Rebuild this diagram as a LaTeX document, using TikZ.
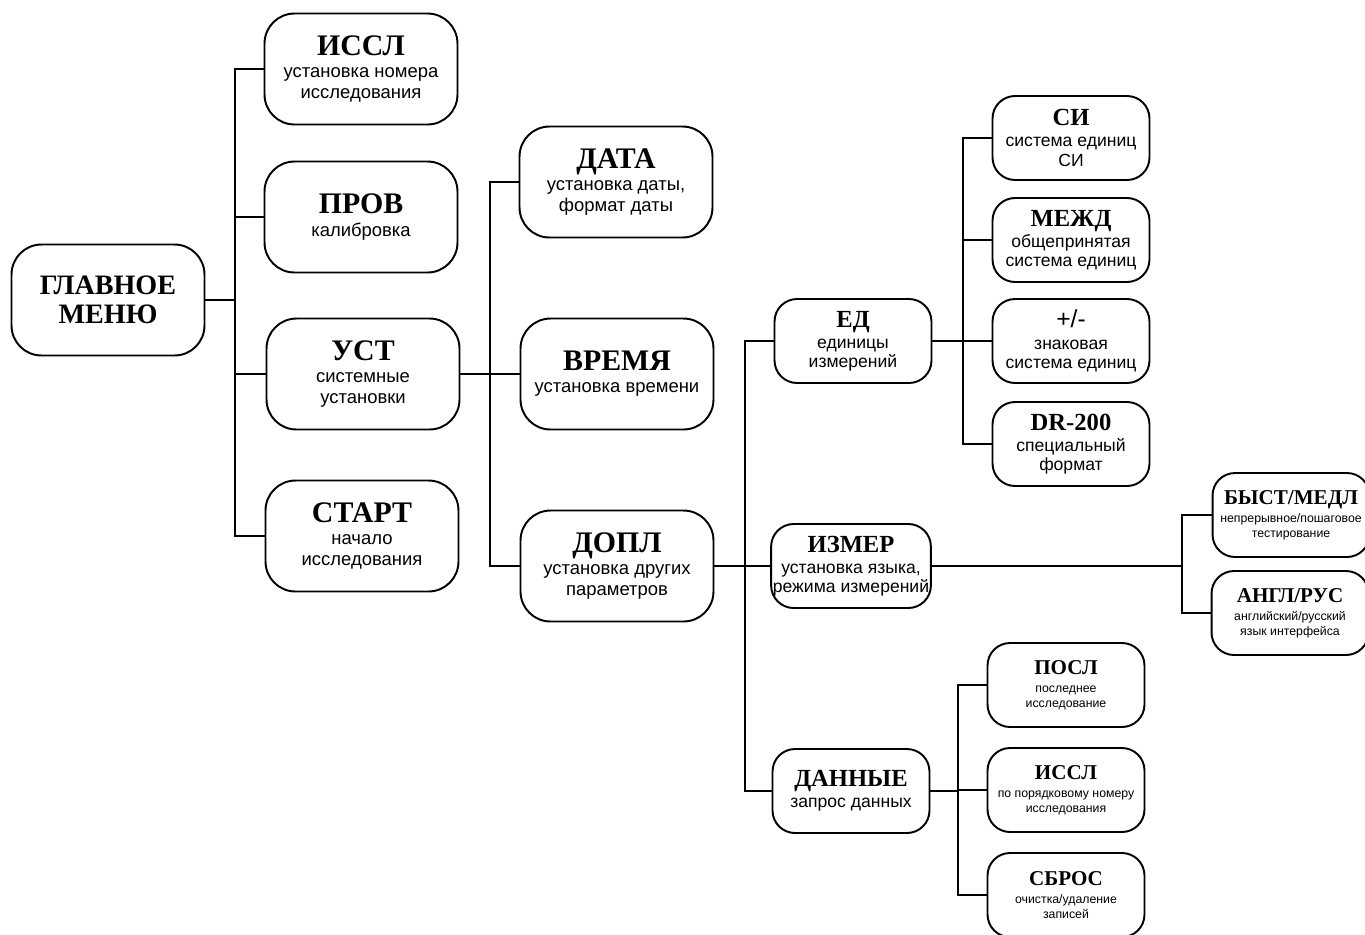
\documentclass[tikz,border=0pt]{standalone}
\usepackage{fontspec}
\setmainfont{Liberation Serif}
\setsansfont{Liberation Sans}
\usepackage{tikz}
\usetikzlibrary{positioning,calc}

\begin{document}
\begin{tikzpicture}[
    x=0.02cm, y=-0.02cm,
    line width=1.1pt,
    bigbox/.style={rectangle, draw, rounded corners=0.6cm, minimum width=3.86cm, minimum height=2.22cm, align=center, inner sep=1pt, font=\sffamily\fontsize{10.5}{11.6}\selectfont},
    smallbox/.style={rectangle, draw, rounded corners=0.45cm, minimum width=3.14cm, minimum height=1.68cm, align=center, inner sep=1pt, font=\sffamily\fontsize{10}{11}\selectfont},
    tinybox/.style={smallbox, font=\sffamily\fontsize{7}{8.4}\selectfont},
    link/.style={draw, line width=1.1pt}
]
    \newcommand{\bigttl}[1]{{\rmfamily\bfseries\fontsize{17}{17}\selectfont #1}\\[1pt]}
    \newcommand{\smttl}[1]{{\rmfamily\bfseries\fontsize{14}{14}\selectfont #1}\\[1pt]}
    \newcommand{\tnttl}[1]{{\rmfamily\bfseries\fontsize{12}{12}\selectfont #1}\\[2pt]}
    \useasboundingbox (0,0) rectangle (1365,934);

    % Root
    \node[bigbox, font=\rmfamily\bfseries\fontsize{16}{16.5}\selectfont] (main) at (108,300) {ГЛАВНОЕ\\МЕНЮ};

    % Level 1
    \node[bigbox] (issl) at (361,69) {\bigttl{ИССЛ}установка номера\\исследования};
    \node[bigbox] (prov) at (361,217) {\bigttl{ПРОВ}калибровка};
    \node[bigbox] (ust) at (363,374) {\bigttl{УСТ}системные\\установки};
    \node[bigbox] (start) at (362,536) {\bigttl{СТАРТ}начало\\исследования};

    % Level 2: system settings
    \node[bigbox] (date) at (616,182) {\bigttl{ДАТА}установка даты,\\формат даты};
    \node[bigbox] (time) at (617,374) {\bigttl{ВРЕМЯ}установка времени};
    \node[bigbox] (dopl) at (617,566) {\bigttl{ДОПЛ}установка других\\параметров};

    % Level 3: other parameters
    \node[smallbox] (ed) at (853,341) {\smttl{ЕД}единицы\\измерений};
    \node[smallbox] (izmer) at (851,566) {\smttl{ИЗМЕР}установка языка,\\режима измерений};
    \node[smallbox] (data) at (851,791) {\smttl{ДАННЫЕ}запрос данных};

    % Level 4: units
    \node[smallbox] (si) at (1071,138) {\smttl{СИ}система единиц\\СИ};
    \node[smallbox] (mezhd) at (1071,240) {\smttl{МЕЖД}общепринятая\\система единиц};
    \node[smallbox] (sign) at (1071,341) {{\sffamily\fontsize{14}{14}\selectfont +/-}\\[1pt]знаковая\\система единиц};
    \node[smallbox] (dr) at (1071,444) {\smttl{DR-200}специальный\\формат};

    % Level 4: measurement
    \node[tinybox] (fast) at (1291,515) {\tnttl{БЫСТ/МЕДЛ}непрерывное/пошаговое\\тестирование};
    \node[tinybox] (lang) at (1290,613) {\tnttl{АНГЛ/РУС}английский/русский\\язык интерфейса};

    % Level 4: data
    \node[tinybox] (last) at (1066,685) {\tnttl{ПОСЛ}последнее\\исследование};
    \node[tinybox] (bynum) at (1066,790) {\tnttl{ИССЛ}по порядковому номеру\\исследования};
    \node[tinybox] (reset) at (1066,895) {\tnttl{СБРОС}очистка/удаление\\записей};

    % Junctions
    \coordinate (j1) at (235,300);
    \coordinate (j2) at (490,374);
    \coordinate (j3) at (745,566);
    \coordinate (j4) at (963,341);
    \coordinate (j5) at (1182,566);
    \coordinate (j6) at (958,791);

    % Connectors
    \draw[link] (main.east) -- (j1);
    \foreach \n in {issl,prov,ust,start} \draw[link] (\n.west) -| (j1);
    \draw[link] (ust.east) -- (j2);
    \foreach \n in {date,time,dopl} \draw[link] (\n.west) -| (j2);
    \draw[link] (dopl.east) -- (j3);
    \foreach \n in {ed,izmer,data} \draw[link] (\n.west) -| (j3);
    \draw[link] (ed.east) -- (j4);
    \foreach \n in {si,mezhd,sign,dr} \draw[link] (\n.west) -| (j4);
    \draw[link] (izmer.east) -- (j5);
    \foreach \n in {fast,lang} \draw[link] (\n.west) -| (j5);
    \draw[link] (data.east) -- (j6);
    \foreach \n in {last,bynum,reset} \draw[link] (\n.west) -| (j6);

\end{tikzpicture}
\end{document}
